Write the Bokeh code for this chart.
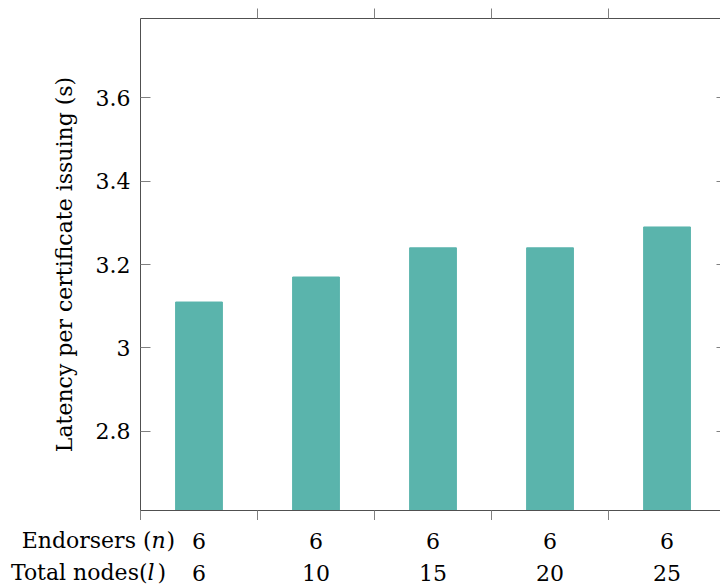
from bokeh.plotting import figure
from bokeh.layouts import column
from bokeh.models import (FixedTicker, LinearAxis, Label, Range1d, ColumnDataSource,
                          LabelSet, NumeralTickFormatter)
from bokeh.core.properties import value
from bokeh.embed import file_html
from bokeh.resources import INLINE

# ---- data ----
positions = [1, 2, 3, 4, 5]
latency = [3.11, 3.17, 3.24, 3.24, 3.29]
endorsers = ["6", "6", "6", "6", "6"]
total_nodes = ["6", "10", "15", "20", "25"]
y_ticks = [2.8, 3.0, 3.2, 3.4, 3.6]
top_ticks = [1.5, 2.5, 3.5, 4.5]
bottom_ticks = [0.5, 1.5, 2.5, 3.5, 4.5]
y_label = "Latency per certificate issuing (s)"

FONT = "DejaVu Serif"
FS = "22px"
AXL = "#505050"
TCK = "#808080"
BAR = "#5ab4ac"

W = 720
LEFT = 140
X0, X1 = 0.5, 5.457
Y0, Y1 = 2.61, 3.79

p = figure(width=W, height=520, output_backend="svg", toolbar_location=None,
           x_range=Range1d(X0, X1), y_range=Range1d(Y0, Y1),
           min_border_left=LEFT, min_border_right=0, min_border_top=18,
           min_border_bottom=10, x_axis_location=None, y_axis_location="left")
p.outline_line_color = None
p.grid.visible = False
p.frame_align = False

src = ColumnDataSource(dict(x=positions, y=latency, e=endorsers, t=total_nodes))
p.vbar(x="x", top="y", bottom=Y0, width=0.4, source=src,
       fill_color=BAR, line_color=BAR, line_width=1)

# left axis
ya = p.yaxis[0]
ya.ticker = FixedTicker(ticks=y_ticks)
ya.formatter = NumeralTickFormatter(format="0.[0]")
ya.major_tick_in = 10
ya.major_tick_out = 0
ya.minor_tick_line_color = None
ya.axis_line_color = AXL
ya.major_tick_line_color = TCK
ya.major_label_text_font = FONT
ya.major_label_text_font_size = FS
ya.major_label_text_color = "black"
ya.major_label_standoff = 10
ya.axis_label = y_label
ya.axis_label_text_font = FONT
ya.axis_label_text_font_size = FS
ya.axis_label_text_font_style = "normal"
ya.axis_label_text_color = "black"
ya.axis_label_standoff = 16

def blank(ticks):
    return {t: "" for t in ticks}

# right axis (only inward ticks, edge cut by window)
ra = LinearAxis(ticker=FixedTicker(ticks=y_ticks), major_tick_in=4, major_tick_out=0,
                axis_line_color=None, major_tick_line_color=TCK, minor_tick_line_color=None,
                major_label_overrides=blank(y_ticks), major_label_standoff=0)
p.add_layout(ra, "right")

# top and bottom axes with separator ticks
for loc, tk in (("above", top_ticks), ("below", bottom_ticks)):
    ax = LinearAxis(ticker=FixedTicker(ticks=tk), major_tick_in=0, major_tick_out=10,
                    axis_line_color=AXL, major_tick_line_color=TCK, minor_tick_line_color=None,
                    major_label_overrides=blank(tk), major_label_standoff=0)
    p.add_layout(ax, loc)

# ---- label strip under the chart, sharing the horizontal scale ----
H2 = 67
ppu = (W - LEFT) / (X1 - X0)
p2 = figure(width=W, height=H2, output_backend="svg", toolbar_location=None,
            x_range=Range1d(X0 - LEFT / ppu, X1), y_range=Range1d(0, 1),
            min_border=0, x_axis_location=None, y_axis_location=None)
p2.outline_line_color = None
p2.grid.visible = False
p2.frame_align = False

ROW1, ROW2 = H2 - 20, H2 - 52
for col, yy in (("e", ROW1), ("t", ROW2)):
    p2.add_layout(LabelSet(x="x", y=yy, y_units="screen", text=col, source=src,
                           text_align="center", text_baseline="middle",
                           text_font=value(FONT), text_font_size=value(FS),
                           text_color="black"))

def hdr(txt, x, y, style="normal", align="left"):
    p2.add_layout(Label(x=x, y=y, x_units="screen", y_units="screen", text=txt,
                        text_font=FONT, text_font_size=FS, text_font_style=style,
                        text_align=align, text_baseline="middle", text_color="black"))

hdr("Endorsers (", 151, ROW1, align="right")
hdr("n", 151, ROW1, style="italic")
hdr(")", 166, ROW1)
hdr("Total nodes(", 147, ROW2, align="right")
hdr("l", 147, ROW2, style="italic")
hdr(")", 157, ROW2)

layout = column(p, p2, spacing=0)
open("out.html", "w").write(file_html(layout, INLINE))
